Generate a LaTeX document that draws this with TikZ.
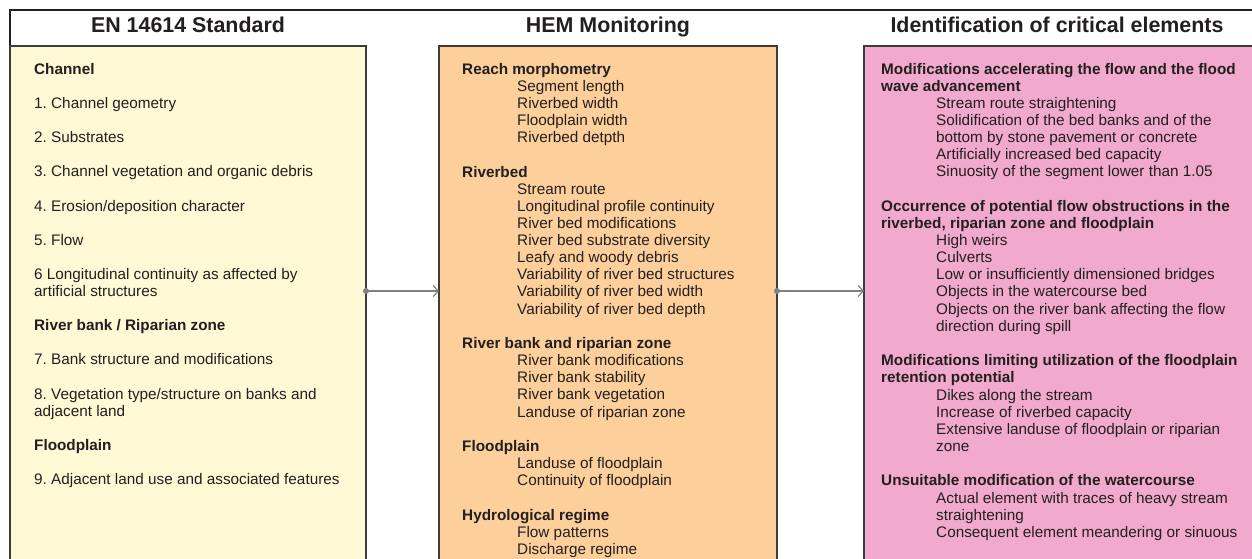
\documentclass[tikz,border=0pt]{standalone}
\usepackage{fontspec}
\setmainfont{Liberation Sans}
\usetikzlibrary{arrows.meta,positioning}
\definecolor{stdyellow}{RGB}{255,249,214}
\definecolor{hemorange}{RGB}{253,208,155}
\definecolor{critpink}{RGB}{241,170,205}
\definecolor{framedark}{RGB}{35,31,32}
\definecolor{boxgray}{RGB}{60,60,60}
\definecolor{linkgray}{RGB}{128,128,128}
\newcommand{\hemind}{\hspace*{55pt}}
\frenchspacing

\begin{document}
\begin{tikzpicture}[x=1pt, y=-1pt,
  panel/.style={draw=boxgray, line width=1.5pt, minimum height=560pt, inner sep=0pt, outer sep=0pt},
  title/.style={font=\fontsize{21.4}{24}\selectfont\bfseries, text=framedark, anchor=base},
  list/.style={anchor=north west, align=left, inner sep=0pt, text=framedark,
               font=\fontsize{15.3}{17.1}\selectfont},
  link/.style={draw=linkgray, line width=1.2pt, -{Straight Barb[length=5pt,width=11pt]}}]
  \useasboundingbox (0,0) rectangle (1252,558);
  \clip (0,0) rectangle (1252,558);
  % outer frame
  \draw[framedark, line width=2.2pt] (10,10) rectangle (1300,620);
  % three columns
  \node[panel, fill=stdyellow, minimum width=356pt, anchor=north west] (std) at (10,46) {};
  \node[panel, fill=hemorange, minimum width=338pt, right=73pt of std] (hem) {};
  \node[panel, fill=critpink,  minimum width=400pt, right=87pt of hem] (crit) {};
  \node[title] (stdtitle)  at ([yshift=14pt]std.north) {EN 14614 Standard};
  \node[title] (hemtitle)  at ([yshift=14pt]hem.north) {HEM Monitoring};
  \node[title] (crittitle) at (1057,32) {Identification of critical elements};
  % contents
  \node[list] (stdlist) at (34,63) {%
    \textbf{Channel}\\[17.1pt]
    1. Channel geometry\\[17.1pt]
    2. Substrates\\[17.1pt]
    3. Channel vegetation and organic debris\\[17.1pt]
    4. Erosion/deposition character\\[17.1pt]
    5. Flow\\[17.1pt]
    6 Longitudinal continuity as affected by\\
    artificial structures\\[17.1pt]
    \textbf{River bank / Riparian zone}\\[17.1pt]
    7. Bank structure and modifications\\[17.1pt]
    8. Vegetation type/structure on banks and\\
    adjacent land\\[17.1pt]
    \textbf{Floodplain}\\[17.1pt]
    9. Adjacent land use and associated features};
  \node[list] (hemlist) at (462,63) {%
    \textbf{Reach morphometry}\\
    \hemind Segment length\\
    \hemind Riverbed width\\
    \hemind Floodplain width\\
    \hemind Riverbed detpth\\[17.5pt]
    \textbf{Riverbed}\\
    \hemind Stream route\\
    \hemind Longitudinal profile continuity\\
    \hemind River bed modifications\\
    \hemind River bed substrate diversity\\
    \hemind Leafy and woody debris\\
    \hemind Variability of river bed structures\\
    \hemind Variability of river bed width\\
    \hemind Variability of river bed depth\\[17.5pt]
    \textbf{River bank and riparian zone}\\
    \hemind River bank modifications\\
    \hemind River bank stability\\
    \hemind River bank vegetation\\
    \hemind Landuse of riparian zone\\[17.5pt]
    \textbf{Floodplain}\\
    \hemind Landuse of floodplain\\
    \hemind Continuity of floodplain\\[17.5pt]
    \textbf{Hydrological regime}\\
    \hemind Flow patterns\\
    \hemind Discharge regime};
  \node[list] (critlist) at (881,63) {%
    \textbf{Modifications accelerating the flow and the flood}\\
    \textbf{wave advancement}\\
    \hemind Stream route straightening\\
    \hemind Solidification of the bed banks and of the\\
    \hemind bottom by stone pavement or concrete\\
    \hemind Artificially increased bed capacity\\
    \hemind Sinuosity of the segment lower than 1.05\\[17.5pt]
    \textbf{Occurrence of potential flow obstructions in the}\\
    \textbf{riverbed, riparian zone and floodplain}\\
    \hemind High weirs\\
    \hemind Culverts\\
    \hemind Low or insufficiently dimensioned bridges\\
    \hemind Objects in the watercourse bed\\
    \hemind Objects on the river bank affecting the flow\\
    \hemind direction during spill\\[17.5pt]
    \textbf{Modifications limiting utilization of the floodplain}\\
    \textbf{retention potential}\\
    \hemind Dikes along the stream\\
    \hemind Increase of riverbed capacity\\
    \hemind Extensive landuse of floodplain or riparian\\
    \hemind zone\\[17.5pt]
    \textbf{Unsuitable modification of the watercourse}\\
    \hemind Actual element with traces of heavy stream\\
    \hemind straightening\\
    \hemind Consequent element meandering or sinuous};
  % links
  \coordinate (split) at (0,291);
  \draw[link] (std.east |- split) -- (hem.west |- split);
  \fill[linkgray] (std.east |- split) circle (3pt);
  \draw[link] (hem.east |- split) -- (crit.west |- split);
  \fill[linkgray] (hem.east |- split) circle (3pt);
\end{tikzpicture}
\end{document}
